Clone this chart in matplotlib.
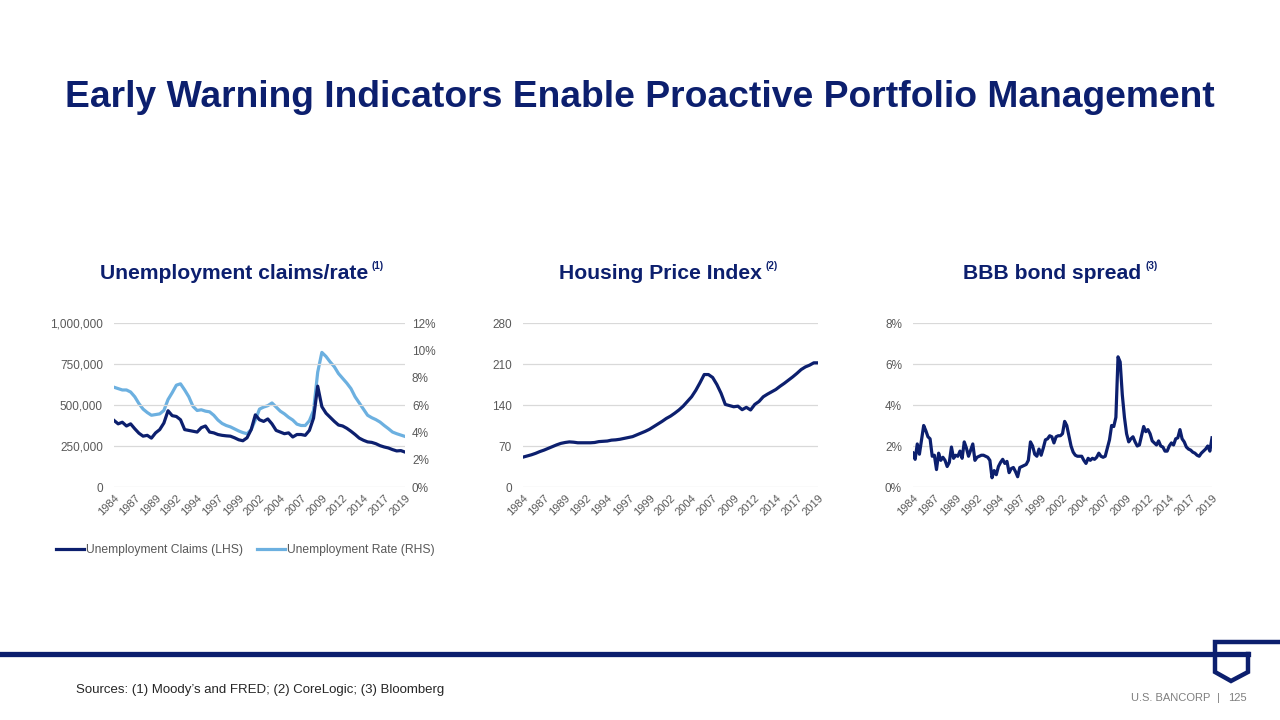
import numpy as np
import matplotlib
matplotlib.use('Agg')
import matplotlib.pyplot as plt
from matplotlib.lines import Line2D

plt.rcParams['font.family'] = ['Liberation Sans', 'DejaVu Sans']

NAVY = '#0c1f6e'
LIGHT_BLUE = '#6cb0e0'
GRID = '#d9d9d9'
TICK_GRAY = '#595959'

# ---- data ----
tick_pos = [1984 + 2.5 * k for k in range(15)]
tick_labels = ['1984', '1987', '1989', '1992', '1994', '1997', '1999', '2002',
               '2004', '2007', '2009', '2012', '2014', '2017', '2019']

half_years = np.arange(1984, 2019.01, 0.5)
quarters = np.arange(1984, 2019.01, 0.25)

# initial unemployment claims, thousands (semi-annual)
claims_k = [406, 385, 395, 372, 385, 355, 328, 310, 315, 298,
            330, 350, 390, 465, 435, 430, 410, 350, 345, 340,
            335, 362, 372, 335, 330, 320, 315, 312, 310, 300,
            288, 282, 300, 350, 440, 410, 400, 415, 385, 345,
            335, 325, 330, 305, 320, 320, 315, 345, 420, 615,
            490, 450, 425, 400, 378, 372, 358, 340, 320, 298,
            285, 275, 272, 264, 252, 244, 238, 228, 220, 222,
            213]

# unemployment rate, % (semi-annual)
unemp_rate = [7.3, 7.2, 7.1, 7.1, 6.95, 6.6, 6.1, 5.7, 5.45, 5.25,
              5.3, 5.35, 5.6, 6.4, 6.9, 7.45, 7.55, 7.1, 6.6, 5.9,
              5.6, 5.65, 5.55, 5.5, 5.25, 4.9, 4.65, 4.5, 4.4, 4.25,
              4.1, 3.98, 3.9, 4.2, 4.9, 5.7, 5.85, 5.95, 6.15, 5.85,
              5.55, 5.35, 5.1, 4.9, 4.6, 4.5, 4.5, 4.85, 5.6, 8.4,
              9.85, 9.55, 9.15, 8.8, 8.3, 7.95, 7.6, 7.2, 6.6, 6.15,
              5.7, 5.25, 5.07, 4.93, 4.75, 4.5, 4.27, 4.02, 3.9, 3.8,
              3.7]

# housing price index (semi-annual)
hpi = [51, 53, 55, 57.5, 60.5, 63, 66, 69, 72, 74.5,
       76, 77, 76.5, 75.5, 75.5, 75.5, 75.5, 76, 77.5, 78,
       78.5, 80, 80.5, 81.5, 83, 84.5, 86, 89, 92, 95,
       98.5, 103, 107.5, 112, 117, 121, 126, 131.5, 138, 146,
       154, 165, 178, 192, 192, 187, 175, 160, 141, 139,
       137, 138, 132, 136, 131.5, 141, 146, 154, 158.5, 162.5,
       166.5, 172, 177, 182.5, 188, 194, 200.5, 205, 208, 212,
       212]

# BBB bond spread, % (quarterly)
bbb_spread = [1.66, 1.35, 2.1, 1.6, 2.3, 3.0, 2.75, 2.45, 2.35, 1.5,
              1.55, 0.85, 1.65, 1.3, 1.45, 1.3, 1.0, 1.2, 1.95, 1.4,
              1.55, 1.5, 1.75, 1.4, 2.2, 1.9, 1.5, 1.8, 2.1, 1.3,
              1.45, 1.5, 1.55, 1.55, 1.5, 1.45, 1.3, 0.45, 0.8, 0.6,
              1.0, 1.2, 1.35, 1.15, 1.25, 0.7, 0.9, 0.95, 0.75, 0.5,
              0.95, 1.0, 1.05, 1.1, 1.3, 2.2, 2.0, 1.6, 1.5, 1.85,
              1.55, 1.9, 2.3, 2.35, 2.5, 2.45, 2.15, 2.45, 2.5, 2.5,
              2.6, 3.2, 3.0, 2.5, 2.0, 1.7, 1.55, 1.5, 1.5, 1.5,
              1.3, 1.15, 1.4, 1.3, 1.4, 1.35, 1.45, 1.65, 1.5, 1.45,
              1.5, 1.9, 2.3, 3.0, 2.95, 3.4, 6.35, 6.1, 4.5, 3.4,
              2.6, 2.2, 2.35, 2.45, 2.2, 2.0, 2.05, 2.5, 2.95, 2.7,
              2.8, 2.6, 2.25, 2.15, 2.05, 2.25, 2.0, 1.95, 1.75, 1.75,
              2.0, 2.15, 2.05, 2.35, 2.4, 2.8, 2.35, 2.2, 1.95, 1.85,
              1.8, 1.7, 1.65, 1.55, 1.5, 1.65, 1.75, 1.85, 2.0, 1.75,
              2.4]

W, H = 1280, 720
fig = plt.figure(figsize=(12.8, 7.2), dpi=100)


def px_axes(left, top, right, bottom):
    return fig.add_axes([left / W, 1 - bottom / H, (right - left) / W, (bottom - top) / H])


def style_axis(ax):
    for s in ax.spines.values():
        s.set_visible(False)
    ax.grid(True, axis='y', color=GRID, linewidth=0.9)
    ax.set_axisbelow(True)
    ax.tick_params(length=0, labelsize=8.5, labelcolor=TICK_GRAY, pad=8)
    ax.set_xlim(1984, 2019)
    ax.set_xticks(tick_pos)
    ax.set_xticklabels(tick_labels, rotation=45, ha='right', va='top',
                       rotation_mode='anchor')
    ax.tick_params(axis='x', pad=4, labelsize=8)


# ---- chart 1: claims / rate ----
ax1 = px_axes(114, 323, 405, 487)
style_axis(ax1)
ax1.plot(half_years, [v * 1000 for v in claims_k], color=NAVY, linewidth=2.3,
         label='Unemployment Claims (LHS)', zorder=3)
ax1.set_ylim(0, 1000000)
ax1.set_yticks([0, 250000, 500000, 750000, 1000000])
ax1.set_yticklabels(['0', '250,000', '500,000', '750,000', '1,000,000'])

ax1r = ax1.twinx()
for s in ax1r.spines.values():
    s.set_visible(False)
ax1r.plot(half_years, unemp_rate, color=LIGHT_BLUE, linewidth=2.3,
          label='Unemployment Rate (RHS)', zorder=2)
ax1r.set_ylim(0, 12)
ax1r.set_yticks(range(0, 13, 2))
ax1r.set_yticklabels([f'{v}%' for v in range(0, 13, 2)])
ax1r.tick_params(length=0, labelsize=8.5, labelcolor=TICK_GRAY, pad=5)
ax1.set_zorder(ax1r.get_zorder() + 1)
ax1.patch.set_visible(False)

handles = [Line2D([], [], color=NAVY, linewidth=2.3),
           Line2D([], [], color=LIGHT_BLUE, linewidth=2.3)]
fig.legend(handles, ['Unemployment Claims (LHS)', 'Unemployment Rate (RHS)'],
           loc='center left', bbox_to_anchor=(56 / W, 1 - 550 / H), ncol=2,
           frameon=False, fontsize=8.7, handlelength=2.3, handletextpad=0.15,
           columnspacing=1.2, borderpad=0, borderaxespad=0, labelcolor=TICK_GRAY)

# ---- chart 2: housing price index ----
ax2 = px_axes(523, 323, 818, 487)
style_axis(ax2)
ax2.plot(half_years, hpi, color=NAVY, linewidth=2.3)
ax2.set_ylim(0, 280)
ax2.set_yticks([0, 70, 140, 210, 280])

# ---- chart 3: BBB spread ----
ax3 = px_axes(913, 323, 1212, 487)
style_axis(ax3)
ax3.plot(quarters, bbb_spread, color=NAVY, linewidth=2.3)
ax3.set_ylim(0, 8)
ax3.set_yticks([0, 2, 4, 6, 8])
ax3.set_yticklabels([f'{v}%' for v in [0, 2, 4, 6, 8]])

# ---- texts ----
fig.text(640 / W, 1 - 107 / H,
         'Early Warning Indicators Enable Proactive Portfolio Management',
         ha='center', va='baseline', fontsize=26.8, fontweight='bold', color=NAVY)

subtitles = [('Unemployment claims/rate', '(1)', 368),
             ('Housing Price Index', '(2)', 762),
             ('BBB bond spread', '(3)', 1141)]
for txt, sup, xr in subtitles:
    fig.text(xr / W, 1 - 279 / H, txt, ha='right', va='baseline',
             fontsize=15.2, fontweight='bold', color=NAVY)
    fig.text((xr + 4) / W, 1 - 269 / H, sup, ha='left', va='baseline',
             fontsize=7, fontweight='bold', color=NAVY)

fig.text(76 / W, 1 - 693 / H,
         'Sources: (1) Moody\u2019s and FRED; (2) CoreLogic; (3) Bloomberg',
         ha='left', va='baseline', fontsize=9.5, color='#262626')
fig.text(1210 / W, 1 - 701 / H, 'U.S. BANCORP', ha='right',
         va='baseline', fontsize=8, color='#7f7f7f')
fig.text(1218 / W, 1 - 701 / H, '|', ha='center',
         va='baseline', fontsize=8, color='#7f7f7f')
fig.text(1228 / W, 1 - 701 / H, '125', ha='left',
         va='baseline', fontsize=8, color='#7f7f7f')

# ---- footer rule with shield mark ----
lw = 3.2
fig.add_artist(Line2D([0, 1248 / W], [1 - 654 / H] * 2, color=NAVY, linewidth=lw + 0.6))
shield_x = [1280, 1215, 1215, 1231, 1248, 1248]
shield_y = [642, 642, 672, 681, 672, 654]
fig.add_artist(Line2D([x / W for x in shield_x], [1 - y / H for y in shield_y],
                      color=NAVY, linewidth=lw, solid_joinstyle='miter'))

plt.savefig('out.png', dpi=100)
plt.close()
